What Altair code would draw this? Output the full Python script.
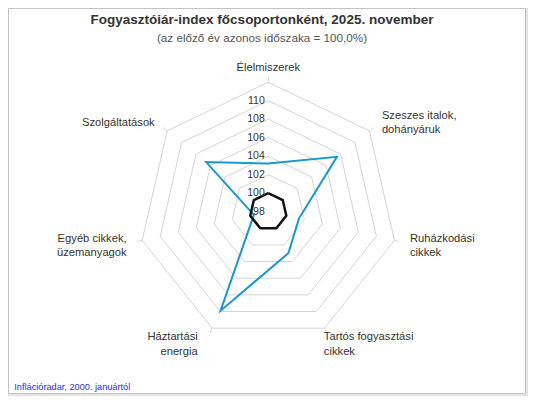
import altair as alt
import pandas as pd

# ---- data ----
categories = ["Élelmiszerek", "Szeszes italok,\ndohányáruk", "Ruházkodási\ncikkek",
              "Tartós fogyasztási\ncikkek", "Háztartási\nenergia",
              "Egyéb cikkek,\nüzemanyagok", "Szolgáltatások"]
index_values = [103.2, 107.5, 101.4, 103.0, 109.9, 99.6, 106.6]
base_values = [100.0, 100.0, 100.0, 100.0, 100.0, 100.0, 100.0]
ring_levels = [100, 102, 104, 106, 108, 110, 112]
radial_ticks = ["98", "100", "102", "104", "106", "108", "110"]
title = "Fogyasztóiár-index főcsoportonként, 2025. november"
subtitle = "(az előző év azonos időszaka = 100,0%)"
credit = "Inflációradar, 2000. januártól"

R_MIN = 98
R_MAX = 112
N = len(categories)

# ---- layout ----
W, H = 520, 388
U = 9.24            # pixels per index point
CX, CY = 260.3, 203.6
xdom = [-CX / U, (W - CX) / U]
ydom = [-(H - CY) / U, CY / U]
FONT = "Liberation Sans, Arial, sans-serif"
LH = 14.5

xs = alt.Scale(domain=xdom, nice=False, zero=False)
ys = alt.Scale(domain=ydom, nice=False, zero=False)
X = lambda f: alt.X(f, type="quantitative", scale=xs, axis=None)
Y = lambda f: alt.Y(f, type="quantitative", scale=ys, axis=None)

polar = dict(
    theta=f"datum.k * 2 * PI / {N}",
    r=f"datum.value - {R_MIN}",
)


def closed(vals, name):
    rows = []
    for i in range(N + 1):
        rows.append({"series": name, "k": i % N, "order": i, "value": vals[i % N]})
    return pd.DataFrame(rows)


def poly_layer(df, color, width):
    return (
        alt.Chart(df)
        .transform_calculate(**polar)
        .transform_calculate(x="datum.r * sin(datum.theta)", y="datum.r * cos(datum.theta)")
        .mark_line(color=color, strokeWidth=width, strokeJoin="miter")
        .encode(x=X("x"), y=Y("y"), order=alt.Order("order:Q"))
    )


# grid rings
ring_rows = []
for lv in ring_levels:
    for i in range(N + 1):
        ring_rows.append({"level": lv, "k": i % N, "order": i, "value": lv})
rings = (
    alt.Chart(pd.DataFrame(ring_rows))
    .transform_calculate(**polar)
    .transform_calculate(x="datum.r * sin(datum.theta)", y="datum.r * cos(datum.theta)")
    .mark_line(color="#d4d4d4", strokeWidth=1)
    .encode(x=X("x"), y=Y("y"), detail="level:N", order=alt.Order("order:Q"))
)

# small outer ticks
tick_df = pd.DataFrame({"k": list(range(N))})
ticks = (
    alt.Chart(tick_df)
    .transform_calculate(theta=f"datum.k * 2 * PI / {N}")
    .transform_calculate(
        x=f"{R_MAX - R_MIN} * sin(datum.theta)",
        y=f"{R_MAX - R_MIN} * cos(datum.theta)",
        x2=f"{R_MAX - R_MIN + 0.55} * sin(datum.theta)",
        y2=f"{R_MAX - R_MIN + 0.55} * cos(datum.theta)",
    )
    .mark_rule(color="#d4d4d4", strokeWidth=1)
    .encode(x=X("x"), y=Y("y"), x2="x2:Q", y2="y2:Q")
)

blue = poly_layer(closed(index_values, "index"), "#1a96d4", 2)
black = poly_layer(closed(base_values, "base"), "#111111", 2.5)

# category labels
lab_df = pd.DataFrame({"k": list(range(N)), "label": categories})
RL = 145.3 / U
lab_base = (
    alt.Chart(lab_df)
    .transform_calculate(theta=f"datum.k * 2 * PI / {N}")
    .transform_calculate(
        lx=f"{RL} * sin(datum.theta) + (cos(datum.theta) < -0.5 ? -0.81 : 0)",
        ly=f"{RL} * cos(datum.theta) + (indexof(datum.label, '\\n') >= 0 ? {LH / 2 / U} : 0)",
        side=f"datum.k == 0 ? 'c' : (datum.k <= {N // 2} ? 'l' : 'r')",
    )
)
lab_common = dict(baseline="middle", dy=2, fontSize=11.2, lineBreak="\n",
                  lineHeight=LH, color="#333333", font=FONT)
labels_c = lab_base.transform_filter("datum.side == 'c'").mark_text(align="center", **lab_common).encode(
    x=X("lx"), y=Y("ly"), text="label:N")
labels_l = lab_base.transform_filter("datum.side == 'l'").mark_text(align="left", **lab_common).encode(
    x=X("lx"), y=Y("ly"), text="label:N")
labels_r = lab_base.transform_filter("datum.side == 'r'").mark_text(align="right", **lab_common).encode(
    x=X("lx"), y=Y("ly"), text="label:N")

# radial tick labels
rt_df = pd.DataFrame({"lab": radial_ticks})
radial = (
    alt.Chart(rt_df)
    .transform_calculate(x="0", y=f"toNumber(datum.lab) - {R_MIN}")
    .mark_text(align="right", baseline="middle", dx=-3.5, fontSize=10.5, color="#333333", font=FONT)
    .encode(x=X("x"), y=Y("y"), text="lab:N")
)

# frame
frame_df = pd.DataFrame({"a": [0]})
shadow = alt.Chart(frame_df).mark_rect(fill=None, stroke="#e4e4e4", strokeWidth=2).encode(
    x=alt.value(2), x2=alt.value(519), y=alt.value(2), y2=alt.value(387))
frame = alt.Chart(frame_df).mark_rect(fill="white", stroke="#c2c2c2", strokeWidth=1).encode(
    x=alt.value(0.5), x2=alt.value(517.5), y=alt.value(0.5), y2=alt.value(385.5))

# titles
t1 = alt.Chart(pd.DataFrame({"t": [title]})).mark_text(
    align="center", baseline="alphabetic", fontSize=13.5, fontWeight="bold", color="#333333", font=FONT
).encode(x=alt.value(254), y=alt.value(15.5), text="t:N")
t2 = alt.Chart(pd.DataFrame({"t": [subtitle]})).mark_text(
    align="center", baseline="alphabetic", fontSize=11.7, color="#555555", font=FONT
).encode(x=alt.value(254), y=alt.value(34), text="t:N")
t3 = alt.Chart(pd.DataFrame({"t": [credit]})).mark_text(
    align="left", baseline="alphabetic", fontSize=9.2, color="#2a2aff", font=FONT
).encode(x=alt.value(6.3), y=alt.value(381.5), text="t:N")

chart = (
    alt.layer(shadow, frame, rings, ticks, blue, black, labels_c, labels_l, labels_r, radial, t1, t2, t3)
    .properties(width=W, height=H, autosize=alt.AutoSizeParams(type="none"), padding=0)
    .configure_view(stroke=None)
    .configure(background="white")
)

chart.save("out.html", embed_options={"renderer": "svg", "actions": False})
